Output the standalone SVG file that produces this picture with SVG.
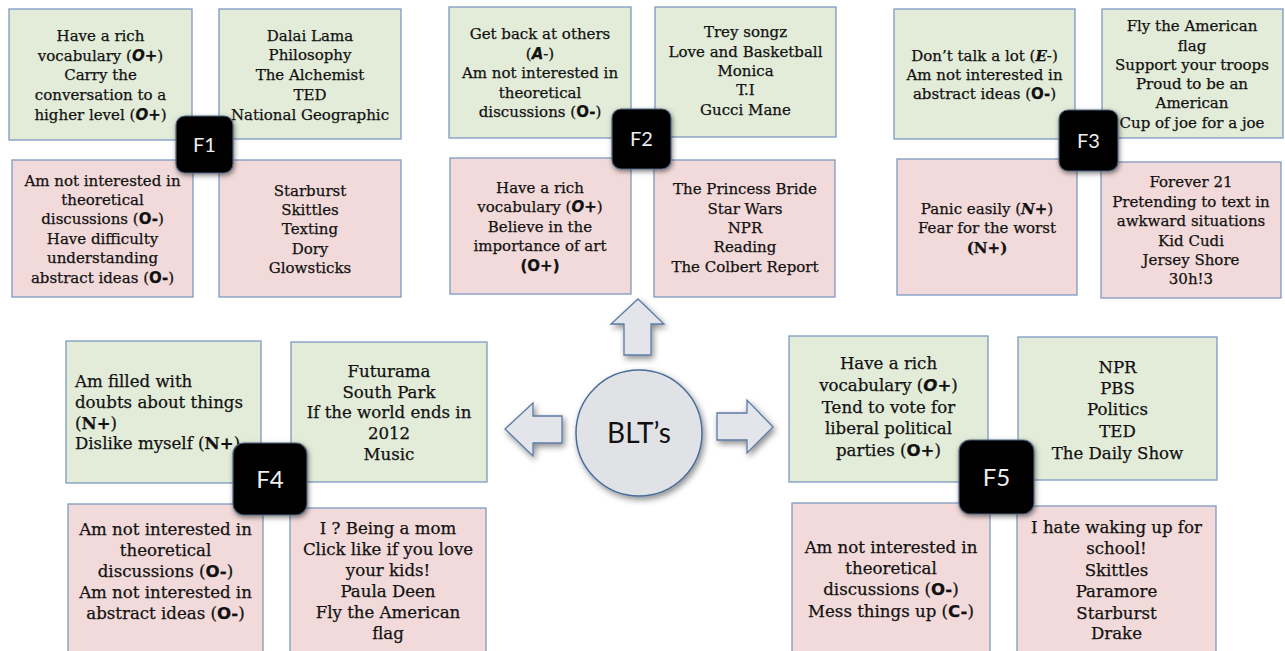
<svg xmlns="http://www.w3.org/2000/svg" width="1285" height="651" viewBox="0 0 1285 651">
<defs>
<filter id="sh" x="-30%" y="-30%" width="160%" height="160%">
<feDropShadow dx="2" dy="3" stdDeviation="3" flood-color="#000" flood-opacity="0.45"/>
</filter>
<filter id="sh2" x="-30%" y="-30%" width="160%" height="160%">
<feDropShadow dx="1" dy="2" stdDeviation="2.5" flood-color="#000" flood-opacity="0.5"/>
</filter>
<style>
.g{fill:#e3ecd9;stroke:#7f99c2;stroke-width:1.3}
.p{fill:#f2dada;stroke:#7f99c2;stroke-width:1.3}
.t{font-family:"DejaVu Serif","Liberation Serif",serif;font-size:15px;fill:#111;stroke:#111;stroke-width:0.25;text-anchor:middle}
.tb{font-family:"DejaVu Serif","Liberation Serif",serif;font-size:16.6px;fill:#111;stroke:#111;stroke-width:0.25;text-anchor:middle}
.l{text-anchor:start}
.k{fill:#000;stroke:#51627c;stroke-width:1.2;filter:url(#sh2)}
.kt{font-family:Lato,"Noto Sans",sans-serif;font-size:20px;fill:#eeeeee;text-anchor:middle}
.kb{font-size:24px}
.si{font-family:"DejaVu Sans",sans-serif;font-weight:bold;font-style:italic}
.sb{font-family:"DejaVu Sans",sans-serif;font-weight:bold}
.rb{font-weight:bold}
.ri{font-weight:bold;font-style:italic}
.ar{fill:#e3e5ea;stroke:#5b7aa6;stroke-width:1.3;filter:url(#sh)}
</style>
</defs>
<rect width="1285" height="651" fill="#ffffff"/>

<g id="f1">
<rect class="g" x="9" y="9" width="183" height="131"/>
<text class="t"><tspan x="100.5" y="41">Have a rich</tspan><tspan x="100.5" y="61">vocabulary (<tspan class="si">O+</tspan>)</tspan><tspan x="100.5" y="80">Carry the</tspan><tspan x="100.5" y="100">conversation to a</tspan><tspan x="100.5" y="120">higher level (<tspan class="si">O+</tspan>)</tspan></text>
<rect class="g" x="219" y="9" width="182" height="130"/>
<text class="t"><tspan x="310" y="41">Dalai Lama</tspan><tspan x="310" y="60">Philosophy</tspan><tspan x="310" y="80">The Alchemist</tspan><tspan x="310" y="100">TED</tspan><tspan x="310" y="120">National Geographic</tspan></text>
<rect class="p" x="12" y="160" width="181" height="137"/>
<text class="t"><tspan x="102.5" y="186">Am not interested in</tspan><tspan x="102.5" y="205">theoretical</tspan><tspan x="102.5" y="224">discussions (<tspan class="sb">O-</tspan>)</tspan><tspan x="102.5" y="244">Have difficulty</tspan><tspan x="102.5" y="263">understanding</tspan><tspan x="102.5" y="283">abstract ideas (<tspan class="sb">O-</tspan>)</tspan></text>
<rect class="p" x="219" y="160" width="182" height="137"/>
<text class="t"><tspan x="310" y="196">Starburst</tspan><tspan x="310" y="215">Skittles</tspan><tspan x="310" y="234">Texting</tspan><tspan x="310" y="254">Dory</tspan><tspan x="310" y="273">Glowsticks</tspan></text>
<rect class="k" x="176" y="116" width="57" height="57" rx="9"/>
<text class="kt" x="204.5" y="151.5">F1</text>
</g>

<g id="f2">
<rect class="g" x="449" y="7" width="182" height="131"/>
<text class="t"><tspan x="540" y="39">Get back at others</tspan><tspan x="540" y="59">(<tspan class="si">A</tspan>-)</tspan><tspan x="540" y="78">Am not interested in</tspan><tspan x="540" y="98">theoretical</tspan><tspan x="540" y="117">discussions (<tspan class="sb">O-</tspan>)</tspan></text>
<rect class="g" x="655" y="7" width="181" height="130"/>
<text class="t"><tspan x="745.5" y="37">Trey songz</tspan><tspan x="745.5" y="57">Love and Basketball</tspan><tspan x="745.5" y="76">Monica</tspan><tspan x="745.5" y="95">T.I</tspan><tspan x="745.5" y="115">Gucci Mane</tspan></text>
<rect class="p" x="450" y="158" width="181" height="136"/>
<text class="t"><tspan x="540" y="193">Have a rich</tspan><tspan x="540" y="212">vocabulary (<tspan class="si">O+</tspan>)</tspan><tspan x="540" y="232">Believe in the</tspan><tspan x="540" y="251">importance of art</tspan><tspan x="540" y="271" class="sb">(O+)</tspan></text>
<rect class="p" x="654" y="160" width="181" height="137"/>
<text class="t"><tspan x="745" y="194">The Princess Bride</tspan><tspan x="745" y="214">Star Wars</tspan><tspan x="745" y="233">NPR</tspan><tspan x="745" y="252">Reading</tspan><tspan x="745" y="272">The Colbert Report</tspan></text>
<rect class="k" x="612" y="109" width="59" height="60" rx="9"/>
<text class="kt" x="641.5" y="146">F2</text>
</g>

<g id="f3">
<rect class="g" x="894" y="9" width="181" height="130"/>
<text class="t"><tspan x="984.5" y="61">Don’t talk a lot (<tspan class="ri">E</tspan>-)</tspan><tspan x="984.5" y="80">Am not interested in</tspan><tspan x="984.5" y="99">abstract ideas (<tspan class="sb">O-</tspan>)</tspan></text>
<rect class="g" x="1102" y="9" width="181" height="129"/>
<text class="t"><tspan x="1192" y="31">Fly the American</tspan><tspan x="1192" y="51">flag</tspan><tspan x="1192" y="70">Support your troops</tspan><tspan x="1192" y="89">Proud to be an</tspan><tspan x="1192" y="108">American</tspan><tspan x="1192" y="128">Cup of joe for a joe</tspan></text>
<rect class="p" x="897" y="159" width="180" height="136"/>
<text class="t"><tspan x="987" y="214">Panic easily (<tspan class="ri">N+</tspan>)</tspan><tspan x="987" y="233">Fear for the worst</tspan><tspan x="987" y="253" class="rb">(N+)</tspan></text>
<rect class="p" x="1101" y="162" width="180" height="136"/>
<text class="t"><tspan x="1191" y="187">Forever 21</tspan><tspan x="1191" y="207">Pretending to text in</tspan><tspan x="1191" y="226">awkward situations</tspan><tspan x="1191" y="246">Kid Cudi</tspan><tspan x="1191" y="265">Jersey Shore</tspan><tspan x="1191" y="284">30h!3</tspan></text>
<rect class="k" x="1059" y="110" width="59" height="61" rx="9"/>
<text class="kt" x="1088.5" y="147.5">F3</text>
</g>

<g id="f4">
<rect class="g" x="66" y="341" width="195" height="142"/>
<text class="tb l"><tspan x="75" y="387">Am filled with</tspan><tspan x="75" y="408">doubts about things</tspan><tspan x="75" y="429">(<tspan class="rb">N+</tspan>)</tspan><tspan x="75" y="449">Dislike myself (<tspan class="rb">N+</tspan>)</tspan></text>
<rect class="g" x="291" y="342" width="196" height="140"/>
<text class="tb"><tspan x="389" y="377">Futurama</tspan><tspan x="389" y="398">South Park</tspan><tspan x="389" y="418">If the world ends in</tspan><tspan x="389" y="439">2012</tspan><tspan x="389" y="460">Music</tspan></text>
<rect class="p" x="68" y="504" width="195" height="152"/>
<text class="tb"><tspan x="165.5" y="535">Am not interested in</tspan><tspan x="165.5" y="556">theoretical</tspan><tspan x="165.5" y="577">discussions (<tspan class="sb">O-</tspan>)</tspan><tspan x="165.5" y="598">Am not interested in</tspan><tspan x="165.5" y="619">abstract ideas (<tspan class="sb">O-</tspan>)</tspan></text>
<rect class="p" x="290" y="508" width="196" height="148"/>
<text class="tb"><tspan x="388" y="534">I ? Being a mom</tspan><tspan x="388" y="555">Click like if you love</tspan><tspan x="388" y="576">your kids!</tspan><tspan x="388" y="597">Paula Deen</tspan><tspan x="388" y="618">Fly the American</tspan><tspan x="388" y="639">flag</tspan></text>
<rect class="k" x="233" y="443" width="74" height="72" rx="11"/>
<text class="kt kb" x="270" y="487.5">F4</text>
</g>

<g id="f5">
<rect class="g" x="789" y="336" width="199" height="146"/>
<text class="tb"><tspan x="888.5" y="369">Have a rich</tspan><tspan x="888.5" y="391">vocabulary (<tspan class="si">O+</tspan>)</tspan><tspan x="888.5" y="413">Tend to vote for</tspan><tspan x="888.5" y="434">liberal political</tspan><tspan x="888.5" y="456">parties (<tspan class="sb">O+</tspan>)</tspan></text>
<rect class="g" x="1018" y="337" width="199" height="143"/>
<text class="tb"><tspan x="1117.5" y="373">NPR</tspan><tspan x="1117.5" y="394">PBS</tspan><tspan x="1117.5" y="415">Politics</tspan><tspan x="1117.5" y="437">TED</tspan><tspan x="1117.5" y="459">The Daily Show</tspan></text>
<rect class="p" x="792" y="503" width="198" height="153"/>
<text class="tb"><tspan x="891" y="553">Am not interested in</tspan><tspan x="891" y="574">theoretical</tspan><tspan x="891" y="595">discussions (<tspan class="sb">O-</tspan>)</tspan><tspan x="891" y="617">Mess things up (<tspan class="sb">C-</tspan>)</tspan></text>
<rect class="p" x="1017" y="506" width="199" height="150"/>
<text class="tb"><tspan x="1116.5" y="533">I hate waking up for</tspan><tspan x="1116.5" y="554">school!</tspan><tspan x="1116.5" y="576">Skittles</tspan><tspan x="1116.5" y="597">Paramore</tspan><tspan x="1116.5" y="619">Starburst</tspan><tspan x="1116.5" y="639">Drake</tspan></text>
<rect class="k" x="959" y="440" width="75" height="74" rx="11"/>
<text class="kt kb" x="996.5" y="485.5">F5</text>
</g>

<g id="connectors">
<polygon class="ar" points="638,299 664,324 651,324 651,355 624,355 624,324 611,324"/>
<polygon class="ar" points="505,429 533,403 533,416 562,416 562,443 533,443 533,456"/>
<polygon class="ar" points="773,427 747,400 747,413 717,413 717,440 747,440 747,453"/>
</g>

<g id="blt">
<circle cx="639" cy="433" r="63" fill="#e1e2e6" stroke="#4a6d9b" stroke-width="1.5" filter="url(#sh)"/>
<text x="639" y="443" font-family="Lato,'Noto Sans',sans-serif" font-size="28" fill="#111" text-anchor="middle">BLT’s</text>
</g>
</svg>
